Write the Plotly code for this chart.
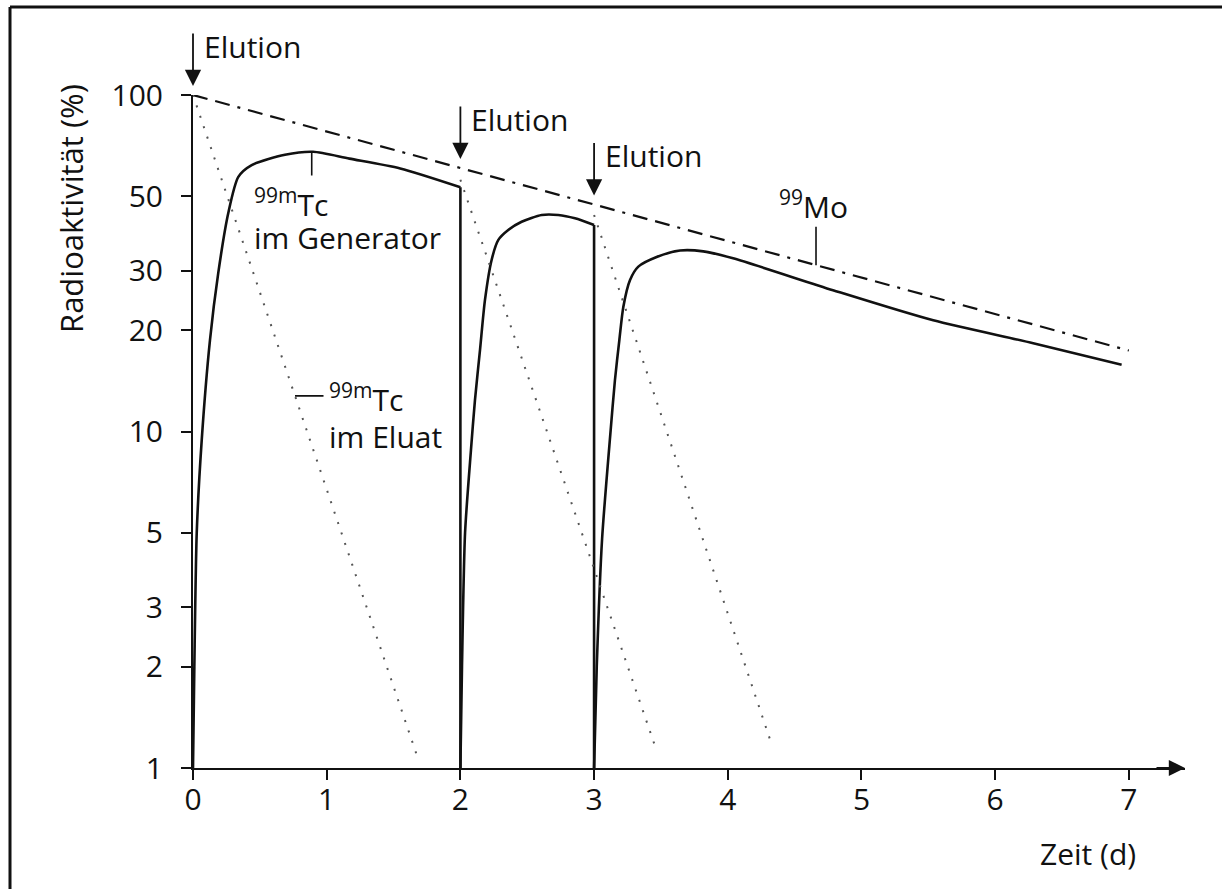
import numpy as np
import plotly.graph_objects as go

# ---------------- data ----------------
# 99mTc activity inside the generator (solid line), three elutions at t = 0, 2, 3 d
gen_t = [0.000, 0.010, 0.028, 0.065, 0.127, 0.189, 0.264, 0.339, 0.439, 0.688, 0.898, 1.170, 1.550, 2.000,
         2.000, 2.012, 2.035, 2.079, 2.109, 2.147, 2.184, 2.234, 2.284, 2.358, 2.458, 2.608, 2.732, 2.857, 3.000,
         3.000, 3.020, 3.060, 3.124, 3.156, 3.189, 3.219, 3.269, 3.331, 3.468, 3.643, 3.817, 4.040, 4.787, 5.537,
         6.285, 6.946]
gen_v = [1.0, 2.0, 5.0, 9.4, 18.7, 29.6, 44.6, 57.1, 61.9, 66.4, 67.8, 64.7, 60.5, 53.2,
         1.0, 2.0, 5.0, 8.8, 12.4, 17.5, 24.6, 32.4, 37.1, 39.7, 42.0, 44.0, 44.0, 43.0, 41.1,
         1.0, 2.0, 4.8, 10.1, 14.2, 18.7, 23.5, 28.2, 30.9, 33.0, 34.5, 34.3, 32.7, 26.3, 21.4,
         18.3, 15.8]

# 99Mo (dash-dot line)
mo_t = [0.0, 7.0]
mo_v = [100.0, 17.4]

# 99mTc in the eluate after each elution (dotted lines)
el1_t = [0.0, 1.685]
el1_v = [100.0, 1.06]
el2_t = [2.0, 3.46]
el2_v = [56.0, 1.15]
el3_t = [3.0, 4.33]
el3_v = [44.0, 1.17]

elution_t = [0, 2, 3]
x_ticks = [0, 1, 2, 3, 4, 5, 6, 7]
y_ticks = [1, 2, 3, 5, 10, 20, 30, 50, 100]
y_ticktext = ["1", "2", "3", "5", "10", "20", "30", "50", "100"]

# ---------------- layout geometry ----------------
W, H = 1222, 889
L, R, T, B = 193, 1185, 95, 768
PW, PH = R - L, B - T
XMAX = 7.42
FONT = "Open Sans"
FS = 30
INK = "#111111"


def pxx(x):
    return (x - L) / PW


def pxy(y):
    return (B - y) / PH


def logmo(t):
    return float(np.interp(t, mo_t, np.log10(mo_v)))


fig = go.Figure()

# solid: 99mTc in generator -- smooth ingrowth/decay pieces, straight vertical drops at elutions
breaks = [i for i in range(1, len(gen_t)) if gen_t[i] == gen_t[i - 1]]
starts = [0] + breaks
ends = [b - 1 for b in breaks] + [len(gen_t) - 1]
for s, e in zip(starts, ends):
    fig.add_trace(go.Scatter(x=gen_t[s:e + 1], y=gen_v[s:e + 1], mode="lines",
                             line=dict(color=INK, width=2.6, shape="spline", smoothing=0.7),
                             hoverinfo="skip", showlegend=False))
for b in breaks:
    fig.add_trace(go.Scatter(x=gen_t[b - 1:b + 1], y=gen_v[b - 1:b + 1], mode="lines",
                             line=dict(color=INK, width=2.6), hoverinfo="skip", showlegend=False))

# dash-dot: 99Mo
fig.add_trace(go.Scatter(x=mo_t, y=mo_v, mode="lines",
                         line=dict(color=INK, width=2.2, dash="15px,8px,15px,8px,3px,8px"),
                         hoverinfo="skip", showlegend=False))
# dotted: eluate
for tt, vv in [(el1_t, el1_v), (el2_t, el2_v), (el3_t, el3_v)]:
    fig.add_trace(go.Scatter(x=tt, y=vv, mode="lines",
                             line=dict(color="#555555", width=2, dash="2px,9px"),
                             hoverinfo="skip", showlegend=False))

ann = []
# elution arrows + labels
for t in elution_t:
    ann.append(dict(x=t, y=logmo(t), xref="x", yref="y", text="", showarrow=True,
                    ax=0, ay=-54, yshift=9, arrowhead=2, arrowsize=1.8, arrowwidth=1.8,
                    arrowcolor=INK))
    ann.append(dict(x=t, y=logmo(t), xref="x", yref="y", text="Elution", showarrow=False,
                    xanchor="left", yanchor="middle", xshift=9, yshift=49,
                    font=dict(family=FONT, size=FS, color=INK)))

# x axis arrow head
ann.append(dict(x=XMAX, y=0, xref="x", yref="y", text="", showarrow=True, ax=-30, ay=0,
                arrowhead=2, arrowsize=1.8, arrowwidth=1.8, arrowcolor=INK))

# leader lines
t_gen_lbl = 0.888
ann.append(dict(x=t_gen_lbl, y=float(np.log10(np.interp(t_gen_lbl, gen_t[:14], gen_v[:14]))),
                xref="x", yref="y", text="", showarrow=True, ax=0, ay=25, arrowhead=0,
                arrowwidth=1.6, arrowcolor=INK))
t_el_lbl = 0.763
ann.append(dict(x=t_el_lbl, y=float(np.interp(t_el_lbl, el1_t, np.log10(el1_v))),
                xref="x", yref="y", text="", showarrow=True, ax=30, ay=0, arrowhead=0,
                arrowwidth=1.6, arrowcolor=INK))
t_mo_lbl = 4.66
ann.append(dict(x=t_mo_lbl, y=logmo(t_mo_lbl), xref="x", yref="y", text="", showarrow=True,
                ax=0, ay=-40, arrowhead=0, arrowwidth=1.6, arrowcolor=INK))


# text labels
def lbl(text, x, y, xa="left", ya="middle", angle=0, size=FS):
    ann.append(dict(x=pxx(x), y=pxy(y), xref="paper", yref="paper", text=text, showarrow=False,
                    xanchor=xa, yanchor=ya, textangle=angle,
                    font=dict(family=FONT, size=size, color=INK)))


lbl("<sup>99m</sup>Tc", 252, 203)
lbl("im Generator", 252, 237)
lbl("<sup>99m</sup>Tc", 327, 398)
lbl("im Eluat", 327, 436)
lbl("<sup>99</sup>Mo", 777, 205)
lbl("Zeit (d)", 1138, 853, xa="right")
lbl("Radioaktivität (%)", 71, 209, xa="center", angle=-90, size=31)

# frame lines (top and left border of the scanned figure)
shapes = [
    dict(type="line", xref="paper", yref="paper", x0=pxx(10), x1=pxx(1230), y0=pxy(7), y1=pxy(7),
         line=dict(color=INK, width=3)),
    dict(type="line", xref="paper", yref="paper", x0=pxx(10), x1=pxx(10), y0=pxy(7), y1=pxy(900),
         line=dict(color=INK, width=3)),
]

fig.update_layout(
    width=W, height=H, margin=dict(l=L, r=W - R, t=T, b=H - B),
    paper_bgcolor="white", plot_bgcolor="white",
    annotations=ann, shapes=shapes, showlegend=False,
    font=dict(family=FONT, size=FS, color=INK),
)
fig.update_xaxes(range=[0, XMAX], tickvals=x_ticks, ticks="outside", ticklen=10, tickwidth=2,
                 tickcolor=INK, showline=True, linecolor=INK, linewidth=2, showgrid=False,
                 zeroline=False, ticklabelstandoff=-6,
                 tickfont=dict(family=FONT, size=FS, color=INK))
fig.update_yaxes(type="log", range=[0, 2], tickvals=y_ticks, ticktext=y_ticktext, ticks="outside",
                 ticklen=10, tickwidth=2, tickcolor=INK, showline=True, linecolor=INK, linewidth=2,
                 showgrid=False, zeroline=False, ticklabelstandoff=12,
                 tickfont=dict(family=FONT, size=FS, color=INK))

fig.write_html("out.html", config={"displayModeBar": False},
               post_script="document.body.style.margin='0px';document.body.style.overflow='hidden';")
